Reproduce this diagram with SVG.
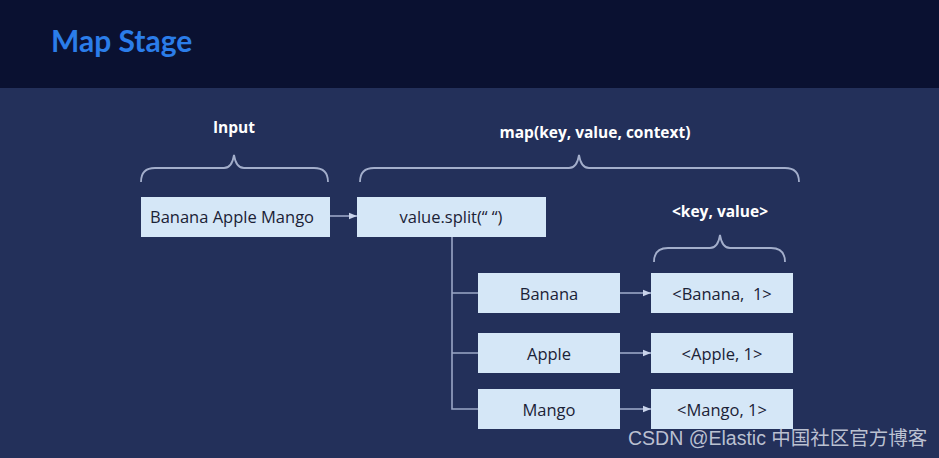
<svg xmlns="http://www.w3.org/2000/svg" width="939" height="458" viewBox="0 0 939 458">
<defs>
<style>
.box{fill:#d5e7f7;}
.bt{font-family:"Open Sans","Liberation Sans",sans-serif;font-size:16.5px;fill:#1b2236;text-anchor:middle;dominant-baseline:central;}
.lbl{font-family:"Open Sans","Liberation Sans",sans-serif;font-size:15.5px;font-weight:bold;fill:#ffffff;text-anchor:middle;}
.ln{fill:none;stroke:#9aa6c6;stroke-width:1.6;}
.br{fill:none;stroke:#a3aecb;stroke-width:1.8;}
</style>
<marker id="ah" viewBox="0 0 10 10" refX="10" refY="5" markerWidth="5" markerHeight="5" orient="auto">
<path d="M0,1 L10,5 L0,9 z" fill="#c9d3ea"/>
</marker>
</defs>
<rect x="0" y="0" width="939" height="458" fill="#23305a"/>
<rect x="0" y="0" width="939" height="88" fill="#0a1131"/>
<text x="51" y="52" font-family="Lato,'Open Sans','Liberation Sans',sans-serif" font-size="30" font-weight="bold" fill="#2b7de9">Map Stage</text>

<g id="labels">
<text class="lbl" x="234" y="133">Input</text>
<text class="lbl" x="595" y="138">map(key, value, context)</text>
<text class="lbl" x="720" y="217">&lt;key, value&gt;</text>
</g>
<g id="braces">
<path class="br" d="M141,182 Q141,168 155,168 L224,168 Q232,168 234,155 Q236,168 244,168 L314,168 Q328,168 328,182"/>
<path class="br" d="M360,182 Q360,168 374,168 L569,168 Q577,168 579,155 Q581,168 589,168 L785,168 Q799,168 799,182"/>
<path class="br" d="M654,262 Q654,248 668,248 L710,248 Q718,248 720,235 Q722,248 730,248 L771,248 Q785,248 785,262"/>
</g>

<g id="connectors">
<path class="ln" d="M330,216 L357,216" marker-end="url(#ah)"/>
<path class="ln" d="M452,237 L452,409 L478,409 M452,293 L478,293 M452,353 L478,353"/>
<path class="ln" d="M620,293 L651,293" marker-end="url(#ah)"/>
<path class="ln" d="M620,353 L651,353" marker-end="url(#ah)"/>
<path class="ln" d="M620,409 L651,409" marker-end="url(#ah)"/>
</g>

<g id="input"><rect class="box" x="141" y="197" width="189" height="40"/><text class="bt" x="232" y="216">Banana Apple Mango</text></g>
<g id="split"><rect class="box" x="357" y="197" width="189" height="40"/><text class="bt" x="451" y="216">value.split(“ “)</text></g>
<g id="banana"><rect class="box" x="478" y="273" width="142" height="40"/><text class="bt" x="549" y="293">Banana</text></g>
<g id="apple"><rect class="box" x="478" y="333" width="142" height="40"/><text class="bt" x="549" y="353">Apple</text></g>
<g id="mango"><rect class="box" x="478" y="389" width="142" height="40"/><text class="bt" x="549" y="409">Mango</text></g>
<g id="kv-banana"><rect class="box" x="651" y="273" width="142" height="40"/><text class="bt" x="722" y="293">&lt;Banana,&#160; 1&gt;</text></g>
<g id="kv-apple"><rect class="box" x="651" y="333" width="142" height="40"/><text class="bt" x="722" y="353">&lt;Apple, 1&gt;</text></g>
<g id="kv-mango"><rect class="box" x="651" y="389" width="142" height="40"/><text class="bt" x="722" y="409">&lt;Mango, 1&gt;</text></g>

<text x="628" y="445" font-family="'Liberation Sans','Noto Sans CJK SC',sans-serif" font-size="19.5" fill="#d8dce6" fill-opacity="0.85">CSDN @Elastic 中国社区官方博客</text>
</svg>
